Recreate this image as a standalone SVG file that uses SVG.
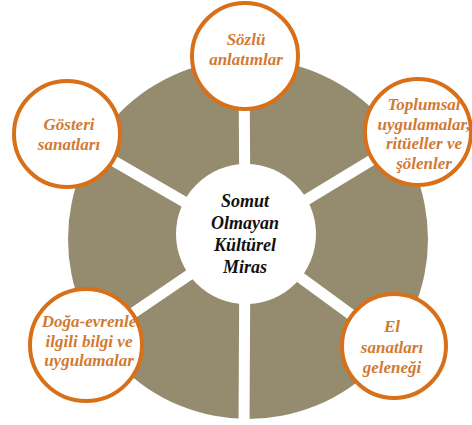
<svg xmlns="http://www.w3.org/2000/svg" width="472" height="425" viewBox="0 0 472 425">
  <style>
    .disc { fill: #958C70; }
    .spoke { stroke: #FFFFFF; stroke-width: 11; stroke-linecap: butt; }
    .hub { fill: #FFFFFF; }
    .node { fill: #FFFFFF; stroke: #D8701A; stroke-width: 4; }
    .label { font-family: "Liberation Serif", "Times New Roman", serif; font-weight: bold; font-style: italic; font-size: 17px; fill: #D27A33; text-anchor: middle; }
    .hub-label { font-family: "Liberation Serif", "Times New Roman", serif; font-weight: bold; font-style: italic; font-size: 18px; fill: #111111; text-anchor: middle; }
  </style>

  <!-- background disc -->
  <circle class="disc" cx="248" cy="239" r="180"/>

  <!-- spokes from the hub to each topic -->
  <g id="connectors">
    <line class="spoke" x1="245" y1="237" x2="244" y2="50"/>
    <line class="spoke" x1="245" y1="237" x2="418" y2="132"/>
    <line class="spoke" x1="245" y1="237" x2="394" y2="346"/>
    <line class="spoke" x1="245" y1="237" x2="244" y2="430"/>
    <line class="spoke" x1="245" y1="237" x2="86" y2="345"/>
    <line class="spoke" x1="245" y1="237" x2="67" y2="134"/>
  </g>

  <!-- hub -->
  <g id="hub">
    <circle class="hub" cx="246" cy="234" r="70"/>
    <text class="hub-label" x="245" y="207">Somut</text>
    <text class="hub-label" x="245" y="229">Olmayan</text>
    <text class="hub-label" x="245" y="251">Kültürel</text>
    <text class="hub-label" x="245" y="273">Miras</text>
  </g>

  <g id="sozlu">
    <circle class="node" cx="245" cy="56" r="53"/>
    <text class="label" x="246" y="45">Sözlü</text>
    <text class="label" x="246" y="65">anlatımlar</text>
  </g>

  <g id="toplumsal">
    <circle class="node" cx="418" cy="132" r="53"/>
    <text class="label" x="424" y="110">Toplumsal</text>
    <text class="label" x="424" y="129.5">uygulamalar,</text>
    <text class="label" x="424" y="149">ritüeller ve</text>
    <text class="label" x="424" y="168.5">şölenler</text>
  </g>

  <g id="el">
    <circle class="node" cx="394" cy="346" r="52"/>
    <text class="label" x="392" y="332">El</text>
    <text class="label" x="392" y="353">sanatları</text>
    <text class="label" x="392" y="373">geleneği</text>
  </g>

  <g id="doga">
    <circle class="node" cx="86" cy="345" r="56"/>
    <text class="label" x="89" y="327">Doğa-evrenle</text>
    <text class="label" x="89" y="347">ilgili bilgi ve</text>
    <text class="label" x="89" y="366">uygulamalar</text>
  </g>

  <g id="gosteri">
    <circle class="node" cx="67" cy="134" r="53"/>
    <text class="label" x="69" y="130">Gösteri</text>
    <text class="label" x="69" y="150">sanatları</text>
  </g>
</svg>
